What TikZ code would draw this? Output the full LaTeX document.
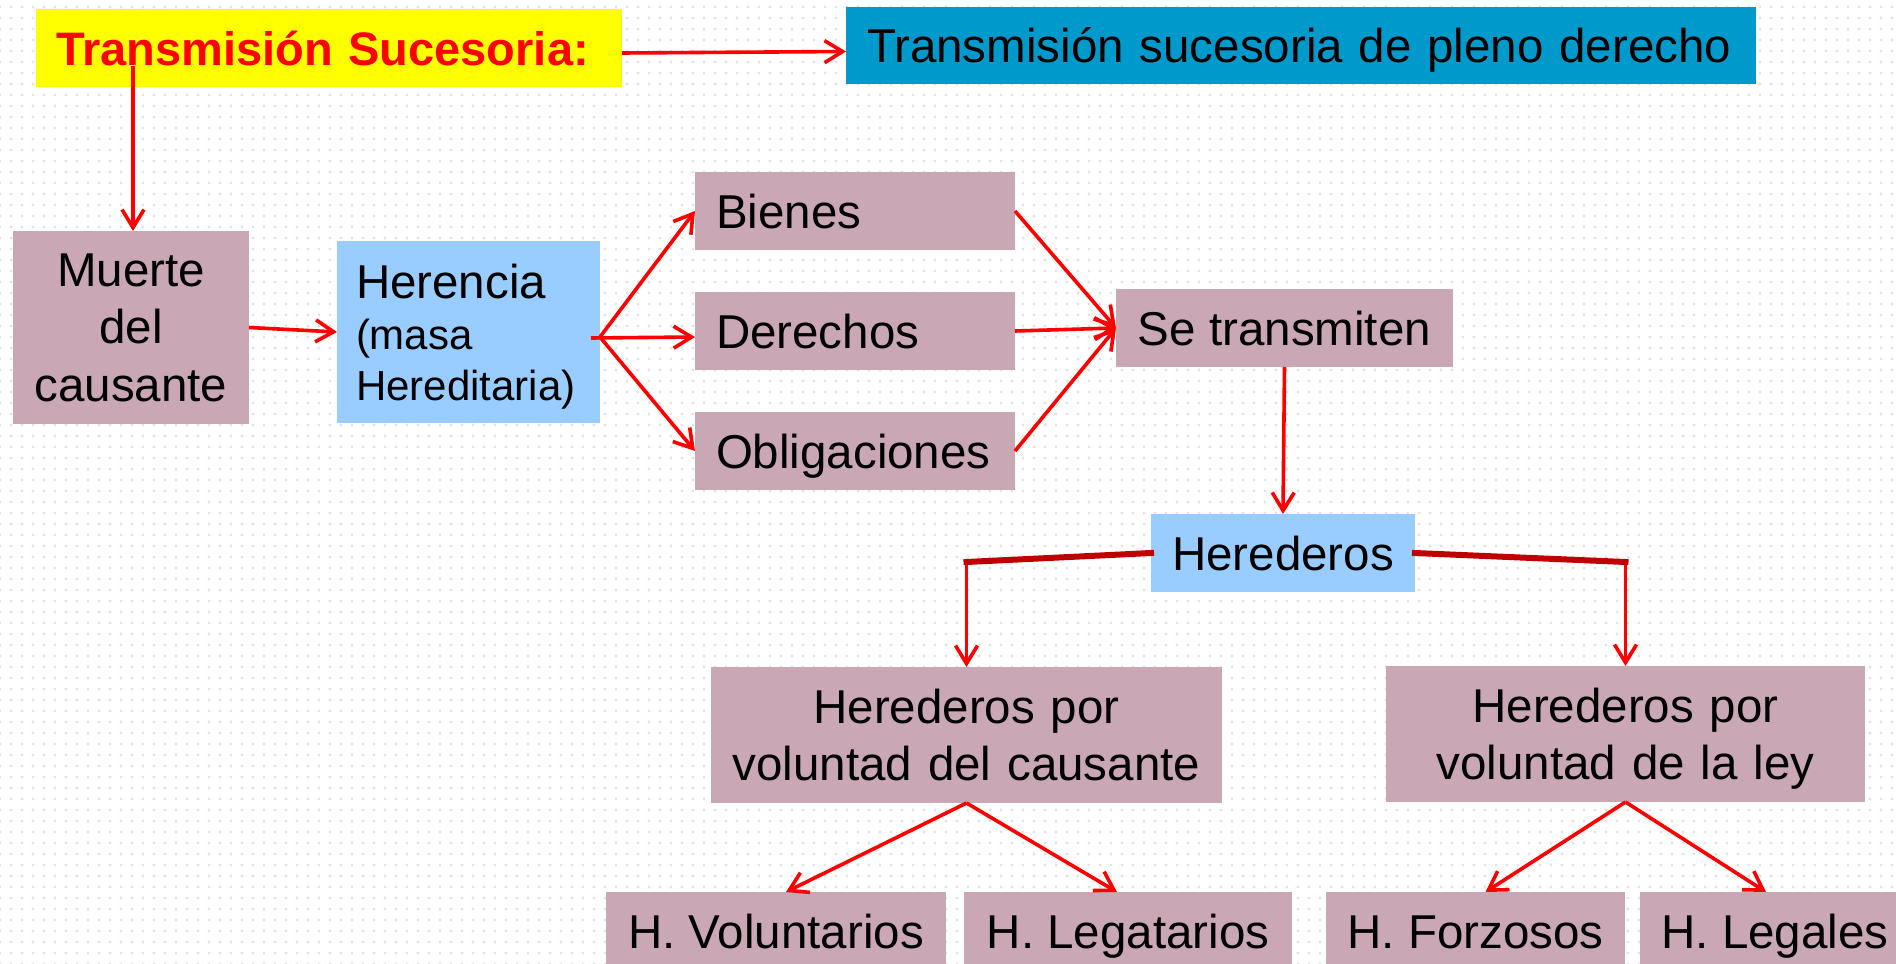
\documentclass[tikz,border=0pt]{standalone}
\usepackage{fontspec}
\setmainfont{Liberation Sans}
\usetikzlibrary{arrows.meta,calc,patterns.meta}
\definecolor{mauve}{RGB}{201,167,180}
\definecolor{lblue}{RGB}{153,204,255}
\definecolor{dblue}{RGB}{0,153,204}
\definecolor{ttlyellow}{RGB}{255,255,0}
\definecolor{conred}{RGB}{255,0,0}
\definecolor{darkred}{RGB}{192,0,0}
\begin{document}
\begin{tikzpicture}[x=1pt,y=-1pt,
  box/.style={inner sep=0pt, outer sep=0pt, anchor=north west,
    font=\fontsize{47.5}{57.5}\selectfont},
  mbox/.style={box, fill=mauve},
  single/.style={text height=34pt, text depth=0pt},
  arr/.style={draw=conred, line width=3.6pt,
    -{Straight Barb[length=18pt,width=22pt,line width=3.6pt]}},
  darkline/.style={draw=darkred, line width=6pt, line cap=rect}]
\useasboundingbox (0,0) rectangle (1896,964);
\fill[white] (0,0) rectangle (1896,964);
\fill[pattern={Dots[distance=11pt,radius=1.7pt]}, pattern color=black!11] (0,0) rectangle (1896,964);

% top row
\node[box, single, fill=ttlyellow, minimum height=78pt, inner xsep=20pt, text width=546pt,
  align=left, text=conred, font=\fontsize{47}{57}\selectfont\bfseries] (title) at (36,9)
  {Transmisión Sucesoria:};
\node[box, single, fill=dblue, minimum height=77pt, inner xsep=21pt, text width=868pt,
  align=left] (pleno) at (846,7) {Transmisión sucesoria de pleno derecho};

% second level
\node[mbox, minimum width=236pt, minimum height=193pt, text width=236pt, align=center] (muerte)
  at (13,231) {Muerte\\del\\\smash{causante}};
\node[box, fill=lblue, minimum height=182pt, inner xsep=19pt, text width=225pt, align=left,
  font=\fontsize{47.5}{51}\selectfont] (herencia) at (337,241)
  {Herencia\\\fontsize{42}{51}\selectfont (masa\\\smash{Hereditaria)}};

\node[mbox, single, minimum height=78pt, inner xsep=21pt, text width=278pt, align=left] (bienes)
  at (695,172) {Bienes};
\node[mbox, single, minimum height=78pt, inner xsep=21pt, text width=278pt, align=left] (derechos)
  at (695,292) {Derechos};
\node[mbox, single, minimum height=78pt, inner xsep=21pt, text width=278pt, align=left] (oblig)
  at (695,412) {Obligaciones};

\node[mbox, single, minimum width=337pt, minimum height=78pt] (setrans) at (1116,289) {Se transmiten};
\node[box, single, fill=lblue, minimum width=264pt, minimum height=78pt] (herederos) at (1151,514) {Herederos};

\node[mbox, minimum width=511pt, minimum height=136pt, text width=511pt, align=center,
  font=\fontsize{47.5}{57}\selectfont] (hpvc) at (711,667)
  {Herederos por\\\smash{voluntad del causante}};
\node[mbox, minimum width=479pt, minimum height=136pt, text width=479pt, align=center,
  font=\fontsize{47.5}{57}\selectfont] (hpvl) at (1386,666)
  {Herederos por\\\smash{voluntad de la ley}};

\node[mbox, single, minimum width=340pt, minimum height=78pt] (hvol) at (606,892) {H. Voluntarios};
\node[mbox, single, minimum width=328pt, minimum height=78pt] (hlegat) at (964,892) {H. Legatarios};
\node[mbox, single, minimum width=299pt, minimum height=78pt] (hforz) at (1326,892) {H. Forzosos};
\node[mbox, single, minimum width=270pt, minimum height=78pt] (hlegal) at (1640,892) {H. Legales};

% connectors
\draw[arr] ([yshift=-5pt]title.east) -- ([yshift=-6pt]pleno.west);
\coordinate (tstart) at (133,66);
\draw[arr] (tstart) -- (tstart |- muerte.north);
\draw[arr] (muerte.east) -- (herencia.west);

\coordinate (fork) at ([yshift=-5pt]herencia.east);
\draw[arr] (fork) -- (bienes.west);
\draw[arr] ([xshift=-9pt,yshift=-6pt]herencia.east) -- ([yshift=-6pt]derechos.west);
\draw[arr] (fork) -- (oblig.west);

\draw[arr] (bienes.east) -- (setrans.west);
\draw[arr] (derechos.east) -- (setrans.west);
\draw[arr] (oblig.east) -- (setrans.west);

\draw[arr] (setrans.south) -- (herederos.north);

\coordinate (yl) at (0,562);
\coordinate (cl) at (hpvc.north |- yl);
\coordinate (cr) at (hpvl.north |- yl);
\draw[arr] (cl) -- (hpvc.north);
\draw[arr] (cr) -- (hpvl.north);
\draw[darkline] (herederos.west) -- (cl);
\draw[darkline] (herederos.east) -- (cr);

\draw[arr] (hpvc.south) -- ([xshift=10pt]hvol.north);
\draw[arr] (hpvc.south) -- ([xshift=-11pt]hlegat.north);
\draw[arr] (hpvl.south) -- ([xshift=10pt]hforz.north);
\draw[arr] (hpvl.south) -- ([xshift=-9pt]hlegal.north);
\end{tikzpicture}
\end{document}
